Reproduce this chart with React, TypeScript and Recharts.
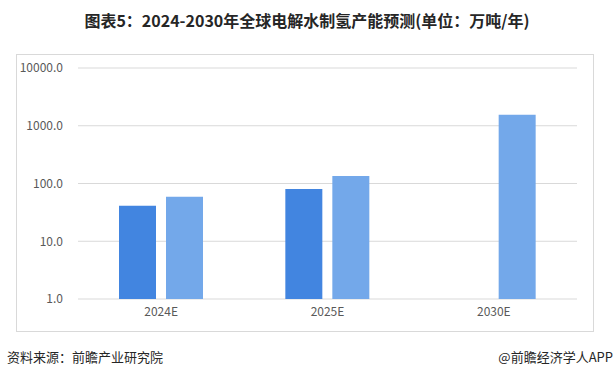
import React from "react";
import { BarChart, Bar, XAxis, YAxis, CartesianGrid } from "recharts";

const years = ["2024E", "2025E", "2030E"];
const seriesA: (number | null)[] = [41, 80, null];
const seriesB: number[] = [59, 135, 1550];
const yTicks = [1, 10, 100, 1000, 10000];

const data = years.map((y, i) => ({ year: y, a: seriesA[i], b: seriesB[i] }));

const FONT = '"Noto Sans CJK SC", "Noto Sans", sans-serif';

export default function App() {
    return (
        <div style={{ position: "absolute", left: 0, top: 0, width: 614, height: 377, background: "#fff", fontFamily: FONT, overflow: "hidden" }}>
            <div style={{ position: "absolute", left: 0, top: 8, width: 614, textAlign: "center", fontSize: 16, fontWeight: 700, color: "#262626", lineHeight: "24px" }}>
                图表5：2024-2030年全球电解水制氢产能预测(单位：万吨/年)
            </div>
            <div style={{ position: "absolute", left: 16, top: 54, width: 576, height: 276, border: "1px solid #d9d9d9" }} />
            <div style={{ position: "absolute", left: 16, top: 54 }}>
                <BarChart width={577} height={277} data={data} margin={{ top: 14, right: 16, bottom: 2, left: 0 }} barGap={10} barSize={37}>
                    <CartesianGrid vertical={false} stroke="#d9d9d9" />
                    <XAxis dataKey="year" height={30} axisLine={false} tickLine={false} tick={{ fontSize: 12, fill: "#595959", fontFamily: FONT }} />
                    <YAxis
                        scale="log"
                        domain={[1, 10000]}
                        ticks={yTicks}
                        width={62}
                        axisLine={false}
                        tickLine={false}
                        tickMargin={9}
                        tick={{ fontSize: 12, fill: "#595959", fontFamily: FONT }}
                        tickFormatter={(v) => Number(v).toFixed(1)}
                    />
                    <Bar dataKey="a" fill="#4285E0" isAnimationActive={false} />
                    <Bar dataKey="b" fill="#73A8EA" isAnimationActive={false} />
                </BarChart>
            </div>
            <div style={{ position: "absolute", left: 7, top: 348, fontSize: 13, color: "#262626", lineHeight: "18px" }}>资料来源：前瞻产业研究院</div>
            <div style={{ position: "absolute", right: 1, top: 348, fontSize: 13, color: "#262626", lineHeight: "18px" }}>@前瞻经济学人APP</div>
        </div>
    );
}
